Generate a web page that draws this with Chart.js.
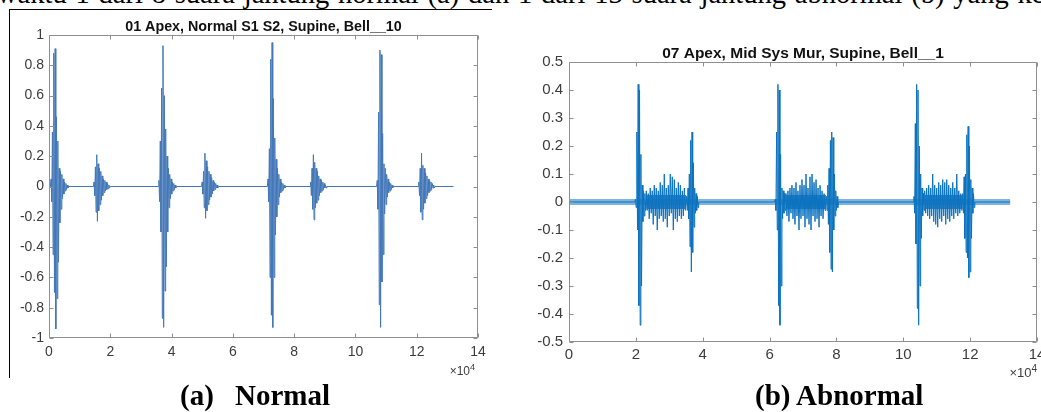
<!DOCTYPE html>
<html>
<head>
<meta charset="utf-8">
<script src="https://cdn.jsdelivr.net/npm/chart.js@4.4.1/dist/chart.umd.min.js"></script>
<style>
html,body{margin:0;padding:0;background:#fff;}
body{width:1041px;height:412px;overflow:hidden;position:relative;font-family:'Liberation Serif','Times New Roman',serif;}
canvas{position:absolute;}
#graf1{left:0;top:0;}
#graf2{left:520px;top:0;}
.txt{position:absolute;white-space:nowrap;line-height:29px;font-size:29px;color:#000;}
.cab{left:-3px;top:-21px;font-size:28.5px;word-spacing:1.7px;}
.leg{font-weight:bold;top:381px;}
.linha{position:absolute;background:#000;}
</style>
</head>
<body>
<div class="txt cab">waktu 1 dari 8 suara jantung normal (a) dan 1 dari 13 suara jantung abnormal (b) yang ke</div>
<div class="linha" style="left:9px;top:9px;width:483px;height:1px"></div>
<div class="linha" style="left:9px;top:9px;width:1px;height:369px"></div>
<canvas id="graf1" width="495" height="392"></canvas>
<canvas id="graf2" width="540" height="392"></canvas>
<div class="txt leg" style="left:180px">(a)</div>
<div class="txt leg" style="left:235px">Normal</div>
<div class="txt leg" style="left:755px">(b) Abnormal</div>
<script>
const FONTE = "'Liberation Sans', Arial, Helvetica, sans-serif";

// eixo x em unidades de 10^4 amostras
const xTicks = [0, 2, 4, 6, 8, 10, 12, 14];
const yTicksNormal = [-1, -0.8, -0.6, -0.4, -0.2, 0, 0.2, 0.4, 0.6, 0.8, 1];
const yTicksAbnormal = [-0.5, -0.4, -0.3, -0.2, -0.1, 0, 0.1, 0.2, 0.3, 0.4, 0.5];
const fimSinal = 13.2;

// (a) normal: S1 e S2, picos
const nS1a = [0.05,-0.1, 0.36,-0.45, 0.88,-0.7, 0.91,-0.94, 0.46,-0.74, 0.3,-0.5, 0.12,-0.24, 0.1,-0.15, 0.08,-0.08, 0.05,-0.05, 0.03,-0.03, 0.02,-0.02, 0.01,-0.01];
const nS1b = [0.04,-0.1, 0.3,-0.3, 0.65,-0.87, 0.93,-0.93, 0.6,-0.69, 0.38,-0.53, 0.2,-0.3, 0.12,-0.14, 0.08,-0.08, 0.05,-0.05, 0.03,-0.03, 0.02,-0.02, 0.01,-0.01];
const nS1c = [0.05,-0.1, 0.25,-0.6, 0.84,-0.85, 0.95,-0.93, 0.58,-0.6, 0.32,-0.32, 0.18,-0.2, 0.12,-0.12, 0.08,-0.07, 0.05,-0.04, 0.03,-0.03, 0.02,-0.02, 0.01,-0.01];
const nS1d = [0.04,-0.15, 0.49,-0.78, 0.9,-0.93, 0.87,-0.63, 0.35,-0.45, 0.15,-0.18, 0.12,-0.12, 0.08,-0.07, 0.05,-0.04, 0.03,-0.03, 0.02,-0.02, 0.01,-0.01];
const nS2a = [0.03,-0.06, 0.13,-0.17, 0.21,-0.23, 0.15,-0.16, 0.12,-0.12, 0.1,-0.09, 0.07,-0.06, 0.05,-0.04, 0.04,-0.03, 0.03,-0.02, 0.02,-0.015, 0.01,-0.01];
const nS2b = [0.03,-0.05, 0.1,-0.14, 0.22,-0.21, 0.17,-0.16, 0.13,-0.12, 0.1,-0.09, 0.08,-0.07, 0.06,-0.05, 0.04,-0.03, 0.03,-0.02, 0.02,-0.01, 0.01,-0.01];
const nS2c = [0.03,-0.06, 0.12,-0.15, 0.21,-0.22, 0.16,-0.14, 0.12,-0.11, 0.1,-0.09, 0.07,-0.06, 0.05,-0.04, 0.04,-0.03, 0.03,-0.02, 0.02,-0.01, 0.01,-0.01];
const nS2d = [0.03,-0.06, 0.12,-0.17, 0.22,-0.22, 0.14,-0.15, 0.12,-0.11, 0.09,-0.08, 0.07,-0.06, 0.05,-0.04, 0.04,-0.03, 0.03,-0.02, 0.02,-0.01, 0.01,-0.01];
const normalInicio = [0.068, 1.47, 3.588, 5.0, 7.148, 8.54, 10.712, 12.07];
const normalBursts = [nS1a, nS2a, nS1b, nS2b, nS1c, nS2c, nS1d, nS2d];
const passoNormal = 0.022;

// (b) abnormal: S1, sopro sistolico, S2
const aS1a = [0.01,-0.02, 0.25,-0.1, 0.42,-0.37, 0.4,-0.44, 0.17,-0.3, 0.06,-0.07, 0.04,-0.05, 0.03,-0.03];
const aS1b = [0.01,-0.03, 0.25,-0.1, 0.42,-0.37, 0.4,-0.44, 0.17,-0.3, 0.05,-0.06, 0.04,-0.04, 0.03,-0.03];
const aS1c = [0.02,-0.04, 0.28,-0.15, 0.42,-0.38, 0.4,-0.44, 0.2,-0.3, 0.1,-0.13, 0.05,-0.05, 0.03,-0.03];
const aS2a = [0.02,-0.03, 0.05,-0.06, 0.1,-0.16, 0.22,-0.25, 0.25,-0.18, 0.14,-0.09, 0.05,-0.04, 0.03,-0.03, 0.02,-0.02];
const aS2b = [0.02,-0.03, 0.06,-0.08, 0.12,-0.18, 0.22,-0.24, 0.25,-0.25, 0.23,-0.1, 0.1,-0.05, 0.04,-0.03, 0.02,-0.02];
const aS2c = [0.03,-0.04, 0.09,-0.13, 0.1,-0.18, 0.24,-0.2, 0.27,-0.27, 0.2,-0.25, 0.08,-0.13, 0.05,-0.04, 0.03,-0.02];
const picoInicio = [1.99, 3.52, 6.17, 7.70, 10.32, 11.78];
const picoBursts = [aS1a, aS2a, aS1b, aS2b, aS1c, aS2c];
const passoPico = 0.02;

const mur1 = [0.04,-0.03, 0.03,-0.06, 0.05,-0.04, 0.04,-0.08, 0.06,-0.05, 0.05,-0.1, 0.04,-0.06, 0.07,-0.05, 0.06,-0.07, 0.1,-0.06,
              0.05,-0.09, 0.06,-0.05, 0.1,-0.04, 0.09,-0.1, 0.08,-0.06, 0.05,-0.07, 0.07,-0.05, 0.06,-0.06, 0.04,-0.05, 0.05,-0.03];
const mur2 = [0.03,-0.05, 0.04,-0.07, 0.05,-0.04, 0.06,-0.06, 0.05,-0.08, 0.07,-0.05, 0.04,-0.1, 0.06,-0.06, 0.08,-0.05, 0.06,-0.09,
              0.1,-0.06, 0.05,-0.08, 0.09,-0.1, 0.1,-0.05, 0.07,-0.07, 0.08,-0.06, 0.05,-0.09, 0.06,-0.05, 0.04,-0.06, 0.03,-0.03];
const mur3 = [0.04,-0.04, 0.05,-0.05, 0.06,-0.06, 0.05,-0.05, 0.1,-0.07, 0.06,-0.08, 0.05,-0.09, 0.07,-0.06, 0.06,-0.07, 0.08,-0.05,
              0.07,-0.08, 0.08,-0.06, 0.06,-0.07, 0.05,-0.05, 0.07,-0.06, 0.05,-0.04, 0.1,-0.05, 0.04,-0.04, 0.03,-0.03];
const murInicio = [2.31, 6.49, 10.64];
const murBursts = [mur1, mur2, mur3];
const passoMur = 0.03;
const murNucleo = 0.025;   // parte densa do sopro

// ruido de fundo do sinal (b)
const ruidoAmp = 0.011;

function addBursts(pts, inicio, bursts, passo){
    for(let i = 0; i < inicio.length; i++){
        let b = bursts[i];
        pts.push({x: inicio[i] - passo, y: 0});
        for(let j = 0; j < b.length; j++){
            pts.push({x: inicio[i] + j*passo, y: b[j]});
        }
        pts.push({x: inicio[i] + b.length*passo, y: 0});
    }
}

// faixa cheia ate o zero, com buracos entre os trechos
function faixa(inicio, bursts, passo, amp){
    let pts = [];
    for(let i = 0; i < inicio.length; i++){
        let fim = inicio[i] + bursts[i].length*passo;
        pts.push({x: inicio[i], y: amp});
        pts.push({x: fim, y: amp});
        pts.push({x: fim + 0.001, y: null});
    }
    return pts;
}

const caixa = {
    id: 'caixa',
    afterDatasetsDraw(chart, args, opts){
        const ctx = chart.ctx, a = chart.chartArea;
        const l = Math.round(a.left) + 0.5, r = Math.round(a.right) - 0.5;
        const t = Math.round(a.top) + 0.5, b = Math.round(a.bottom) - 0.5;
        ctx.save();
        ctx.strokeStyle = opts.cor;
        ctx.lineWidth = 1;
        ctx.beginPath();
        ctx.rect(l, t, r - l, b - t);
        chart.scales.x.ticks.forEach(tk => {
            let px = Math.round(chart.scales.x.getPixelForValue(tk.value)) + 0.5;
            ctx.moveTo(px, b); ctx.lineTo(px, b - 4);
            ctx.moveTo(px, t); ctx.lineTo(px, t + 4);
        });
        chart.scales.y.ticks.forEach(tk => {
            let py = Math.round(chart.scales.y.getPixelForValue(tk.value)) + 0.5;
            ctx.moveTo(l, py); ctx.lineTo(l + 4, py);
            ctx.moveTo(r, py); ctx.lineTo(r - 4, py);
        });
        ctx.stroke();

        // titulo
        ctx.fillStyle = '#111';
        ctx.textAlign = 'center';
        ctx.textBaseline = 'middle';
        ctx.font = 'bold ' + opts.tamTitulo + 'px ' + FONTE;
        ctx.fillText(opts.titulo, (a.left + a.right)/2, a.top - opts.yTitulo);

        // x10^4
        ctx.fillStyle = opts.corTexto;
        ctx.textAlign = 'left';
        ctx.textBaseline = 'alphabetic';
        ctx.font = opts.fonte + 'px ' + FONTE;
        let w1 = ctx.measureText('\u00d710').width;
        ctx.font = (opts.fonte - 3) + 'px ' + FONTE;
        let w2 = ctx.measureText('4').width;
        let x0 = a.right + opts.dx - w1 - w2;
        let base = a.bottom + opts.dy;
        ctx.font = opts.fonte + 'px ' + FONTE;
        ctx.fillText('\u00d710', x0, base);
        ctx.font = (opts.fonte - 3) + 'px ' + FONTE;
        ctx.fillText('4', x0 + w1, base - 5);
        ctx.restore();
    }
};

function eixos(yTicks, yMin, yMax, larguraY, alturaX, fonte, padX, padY){
    return {
        x: {
            type: 'linear', min: 0, max: 14,
            afterBuildTicks: s => { s.ticks = xTicks.map(v => ({value: v})); },
            afterFit: s => { s.height = alturaX; },
            grid: {display: false, drawTicks: false},
            border: {display: false},
            ticks: {font: {family: FONTE, size: fonte}, color: '#3c3c3c', padding: padX, maxRotation: 0, callback: v => String(v)}
        },
        y: {
            type: 'linear', min: yMin, max: yMax,
            afterBuildTicks: s => { s.ticks = yTicks.map(v => ({value: v})); },
            afterFit: s => { s.width = larguraY; },
            grid: {display: false, drawTicks: false},
            border: {display: false},
            ticks: {font: {family: FONTE, size: fonte}, color: '#3c3c3c', padding: padY, callback: v => String(v)}
        }
    };
}

function chartNormal(){
    let ctx = document.getElementById("graf1");
    let pts = [{x: 0, y: 0}];
    addBursts(pts, normalInicio, normalBursts, passoNormal);
    pts.push({x: fimSinal, y: 0});
    pts.sort((p, q) => p.x - q.x);
    let config = {
        type: 'line',
        data: {
            datasets: [{
                data: pts,
                borderColor: '#4377b8',
                borderWidth: 1,
                pointRadius: 0,
                tension: 0,
                fill: false
            }]
        },
        options: {
            responsive: false,
            animation: false,
            events: [],
            layout: {padding: {top: 35, left: 0, right: 17, bottom: 0}},
            scales: eixos(yTicksNormal, -1, 1, 49, 54, 14, 6, 5),
            plugins: {
                legend: {display: false},
                tooltip: {enabled: false},
                title: {display: false},
                caixa: {cor: '#8f8f8f', corTexto: '#3c3c3c', fonte: 12, dx: -3, dy: 37,
                        titulo: '01 Apex, Normal S1 S2, Supine, Bell__10', tamTitulo: 14.3, yTitulo: 8}
            }
        },
        plugins: [caixa]
    };
    new Chart(ctx, config);
}

function chartAbnormal(){
    let ctx = document.getElementById("graf2");
    let pts = [{x: 0, y: 0}];
    addBursts(pts, picoInicio, picoBursts, passoPico);
    addBursts(pts, murInicio, murBursts, passoMur);
    pts.push({x: fimSinal, y: 0});
    pts.sort((p, q) => p.x - q.x);
    const azulFaixa = 'rgba(18,116,194,0.55)';
    const azulNucleo = 'rgba(10,108,188,0.8)';
    let config = {
        type: 'line',
        data: {
            datasets: [{
                data: pts,
                borderColor: '#0b72bf',
                borderWidth: 1,
                pointRadius: 0,
                tension: 0,
                fill: false
            },
            {
                data: [{x: 0, y: ruidoAmp}, {x: fimSinal, y: ruidoAmp}],
                borderWidth: 0, pointRadius: 0,
                backgroundColor: azulFaixa,
                fill: 'origin'
            },
            {
                data: [{x: 0, y: -ruidoAmp}, {x: fimSinal, y: -ruidoAmp}],
                borderWidth: 0, pointRadius: 0,
                backgroundColor: azulFaixa,
                fill: 'origin'
            },
            {
                data: faixa(murInicio, murBursts, passoMur, murNucleo),
                borderWidth: 0, pointRadius: 0, spanGaps: false,
                backgroundColor: azulNucleo,
                fill: 'origin'
            },
            {
                data: faixa(murInicio, murBursts, passoMur, -murNucleo),
                borderWidth: 0, pointRadius: 0, spanGaps: false,
                backgroundColor: azulNucleo,
                fill: 'origin'
            }]
        },
        options: {
            responsive: false,
            animation: false,
            events: [],
            layout: {padding: {top: 62, left: 0, right: 23, bottom: 0}},
            scales: eixos(yTicksAbnormal, -0.5, 0.5, 49, 50, 15, 4, 6),
            plugins: {
                legend: {display: false},
                tooltip: {enabled: false},
                title: {display: false},
                caixa: {cor: '#8f8f8f', corTexto: '#3c3c3c', fonte: 13, dx: 0, dy: 35,
                        titulo: '07 Apex, Mid Sys Mur, Supine, Bell__1', tamTitulo: 15.5, yTitulo: 8}
            }
        },
        plugins: [caixa]
    };
    new Chart(ctx, config);
}

chartNormal();
chartAbnormal();
</script>
</body>
</html>
